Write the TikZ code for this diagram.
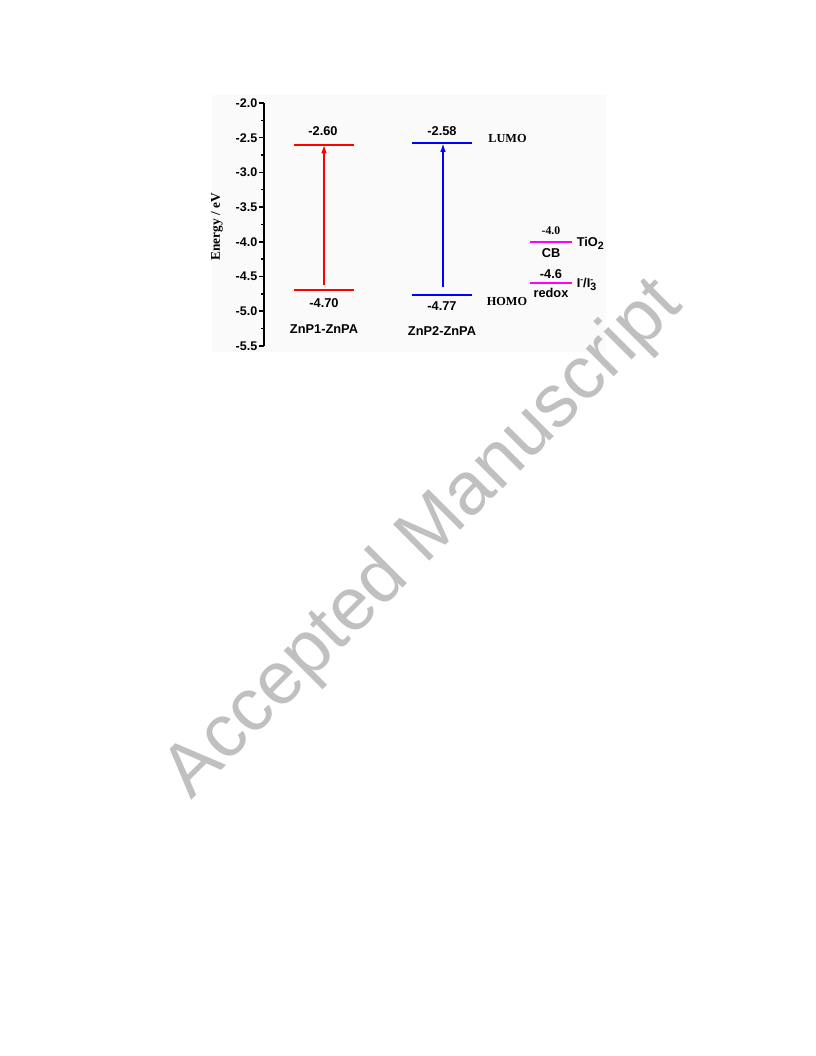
\documentclass[tikz,border=0pt]{standalone}
\usepackage{fontspec}
\setmainfont{Liberation Serif}
\newfontfamily\arialf{Liberation Sans}
\newfontfamily\wmfont{Liberation Sans}
\usetikzlibrary{arrows.meta}
\definecolor{lvred}{RGB}{255,0,0}
\definecolor{lvblue}{RGB}{0,0,255}
\definecolor{lvmag}{RGB}{255,0,255}
\definecolor{plotbg}{RGB}{250,250,250}
\definecolor{wmgray}{RGB}{192,192,192}
\newcommand{\yE}[1]{103+(-2-(#1))*69.4}
\tikzset{
  x=0.75pt, y=-0.75pt,
  level/.style={line width=1.5pt},
  trans/.style={line width=1.1pt, -{Latex[length=6.5pt,width=4.2pt]}},
  sanslab/.style={font=\arialf\bfseries\fontsize{9.6}{11}\selectfont, inner sep=0pt},
  seriflab/.style={font=\bfseries\fontsize{9.2}{10}\selectfont, inner sep=0pt},
  ticklab/.style={font=\arialf\bfseries\fontsize{9.4}{11}\selectfont, inner sep=0pt, anchor=east},
  axisline/.style={line width=1.1pt},
}
\begin{document}
\begin{tikzpicture}
\useasboundingbox (0,0) rectangle (816,1056);
\fill[white] (0,0) rectangle (816,1056);
% plot background
\fill[plotbg] (212,95) rectangle (606,352);
% axis
\draw[axisline] (264,{\yE{-2.0}}) -- (264,{\yE{-5.5}});
\foreach \e in {-2.0,-2.5,-3.0,-3.5,-4.0,-4.5,-5.0,-5.5}{
  \draw[axisline] (259,{\yE{\e}}) -- (264,{\yE{\e}});
  \node[ticklab] at (257.5,{\yE{\e}}) {\e};
}
\foreach \e in {-2.25,-2.75,-3.25,-3.75,-4.25,-4.75,-5.25}{
  \draw[axisline] (261,{\yE{\e}}) -- (264,{\yE{\e}});
}
\node[seriflab, font=\bfseries\fontsize{10}{11}\selectfont, rotate=90] (ylab) at (217,227) {Energy / eV};

% ZnP1-ZnPA (red)
\coordinate (r1L) at (294,{\yE{-2.60}});
\coordinate (r1R) at (354,{\yE{-2.60}});
\coordinate (r1M) at (324,{\yE{-2.60}});
\coordinate (r0L) at (294,{\yE{-4.70}});
\coordinate (r0R) at (354,{\yE{-4.70}});
\coordinate (r0M) at (324,{\yE{-4.70}-5});
\draw[level, lvred] (r1L) -- (r1R);
\draw[level, lvred] (r0L) -- (r0R);
\draw[trans, lvred] (r0M) -- (r1M);
\node[sanslab] (r1lab) at (323,131.5) {-2.60};
\node[sanslab] (r0lab) at (324,303) {-4.70};
\node[sanslab] (n1) at (324,329) {ZnP1-ZnPA};

% ZnP2-ZnPA (blue)
\coordinate (b1L) at (412,{\yE{-2.58}});
\coordinate (b1R) at (472,{\yE{-2.58}});
\coordinate (b1M) at (443,{\yE{-2.58}});
\coordinate (b0L) at (412,{\yE{-4.77}});
\coordinate (b0R) at (472,{\yE{-4.77}});
\coordinate (b0M) at (443,{\yE{-4.77}-8});
\draw[level, lvblue] (b1L) -- (b1R);
\draw[level, lvblue] (b0L) -- (b0R);
\draw[trans, lvblue] (b0M) -- (b1M);
\node[sanslab] (b1lab) at (442,131) {-2.58};
\node[sanslab] (b0lab) at (442,306.5) {-4.77};
\node[sanslab] (n2) at (442,331.5) {ZnP2-ZnPA};
\node[seriflab] (lumo) at (507.5,138.5) {LUMO};
\node[seriflab] (homo) at (507,301.5) {HOMO};

% TiO2 CB and redox (magenta)
\coordinate (cbL) at (530,{\yE{-4.0}});
\coordinate (cbR) at (572,{\yE{-4.0}});
\coordinate (rdL) at (530,{\yE{-4.6}});
\coordinate (rdR) at (572,{\yE{-4.6}});
\draw[level, lvmag] (cbL) -- (cbR);
\draw[level, lvmag] (rdL) -- (rdR);
\node[seriflab, font=\bfseries\fontsize{8.8}{9}\selectfont] (cbv) at (551,230.5) {-4.0};
\node[sanslab] (cblab) at (551,253) {CB};
\node[sanslab, anchor=west] (tio2) at (576.5,243.5) {TiO\raisebox{-0.4ex}{\fontsize{8}{9}\selectfont 2}};
\node[sanslab] (rdv) at (551,274) {-4.6};
\node[sanslab] (rdlab) at (551,292.5) {redox};
\node[sanslab, anchor=west] (iod) at (576.5,284.5) {I\raisebox{0.8ex}{\fontsize{6.5}{7}\selectfont -}/I\rlap{\raisebox{0.8ex}{\fontsize{6.5}{7}\selectfont -}}\raisebox{-0.45ex}{\fontsize{8}{9}\selectfont 3}};

% watermark
\node[wmgray, font=\wmfont\fontsize{56}{60}\selectfont, rotate=45, inner sep=0pt] (wm) at (424,540) {Accepted Manuscript};
\end{tikzpicture}
\end{document}
